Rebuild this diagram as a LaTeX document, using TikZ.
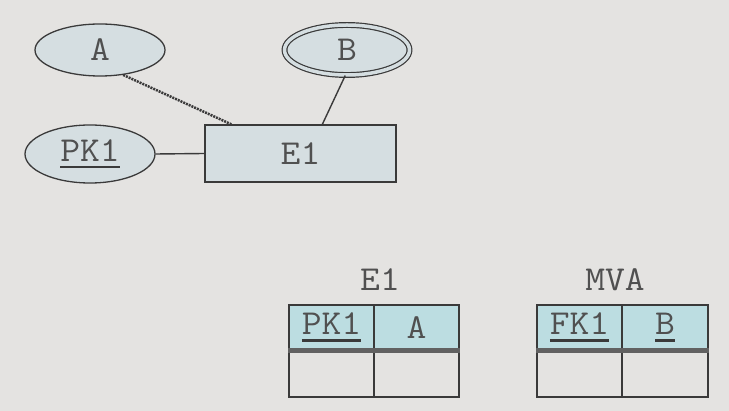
\documentclass[tikz,border=0pt]{standalone}
\usepackage{fontspec}
\newfontfamily\courfont[FakeStretch=1.1]{Latin Modern Mono}
\usetikzlibrary{shapes.geometric,calc}
\definecolor{bg}{HTML}{E4E3E1}
\definecolor{entfill}{HTML}{D5DEE1}
\definecolor{hdrfill}{HTML}{BCDDE1}
\definecolor{ln}{HTML}{3A3A3A}
\definecolor{txt}{HTML}{505050}
\newcommand\ulword[1]{\setbox0\hbox{#1}\rlap{\color{ln}\rule[-7pt]{\wd0}{2.5pt}}\box0}
\tikzset{
  lbl/.style={font=\courfont\fontsize{35}{40}\selectfont, text=txt},
  attr/.style={ellipse, draw=ln, line width=1.3pt, fill=entfill, lbl, inner sep=0pt, minimum width=130pt, minimum height=52pt},
  mattr/.style={ellipse, draw=ln, line width=1.2pt, double=entfill, double distance=3.5pt, fill=entfill, lbl, inner sep=0pt, minimum width=125pt, minimum height=50pt},
  ent/.style={rectangle, draw=ln, line width=1.3pt, fill=entfill, lbl, inner sep=0pt, minimum width=191pt, minimum height=57pt},
  hcell/.style={rectangle, draw=ln, line width=1.3pt, fill=hdrfill, lbl, inner sep=0pt, minimum height=45pt},
  bcell/.style={rectangle, draw=ln, line width=1.3pt, lbl, inner sep=0pt, minimum height=45pt},
  conn/.style={draw=ln, line width=1.4pt},
  derconn/.style={draw=ln, line width=2.5pt, dash pattern=on 2pt off 1pt},
  sep/.style={draw=ln!80, line width=5pt},
}
\begin{document}
\begin{tikzpicture}[x=1pt,y=-1pt]
\fill[bg] (0,0) rectangle (729,411);
\useasboundingbox (0,0) rectangle (729,411);
% ER diagram
\node[attr] (A) at (100,50) {A};
\node[mattr] (B) at (347,50) {B};
\node[attr, minimum height=58pt] (PK1) at (90,154) {\ulword{PK1}};
\node[ent] (E1) at (300.5,153.5) {E1};
\draw[derconn] (A.-47) -- ($(E1.north west)+(27,0)$);
\draw[conn] (B.-94) -- ($(E1.north west)+(118,0)$);
\draw[conn] (PK1.east) -- (E1.west);
% relational tables
\node[lbl] (t1) at (380,280) {E1};
\node[hcell, minimum width=85pt] (e1h1) at (331.5,327.5) {\ulword{PK1}};
\node[hcell, minimum width=85pt] (e1h2) at (416.5,327.5) {A};
\node[bcell, minimum width=85pt] (e1b1) at (331.5,374.5) {};
\node[bcell, minimum width=85pt] (e1b2) at (416.5,374.5) {};
\draw[sep] (e1h1.south west) -- (e1h2.south east);
\node[lbl] (t2) at (615,280) {MVA};
\node[hcell, minimum width=85pt] (mh1) at (579.5,327.5) {\ulword{FK1}};
\node[hcell, minimum width=86pt] (mh2) at (665,327.5) {\ulword{B}};
\node[bcell, minimum width=85pt] (mb1) at (579.5,374.5) {};
\node[bcell, minimum width=86pt] (mb2) at (665,374.5) {};
\draw[sep] (mh1.south west) -- (mh2.south east);
\end{tikzpicture}
\end{document}
